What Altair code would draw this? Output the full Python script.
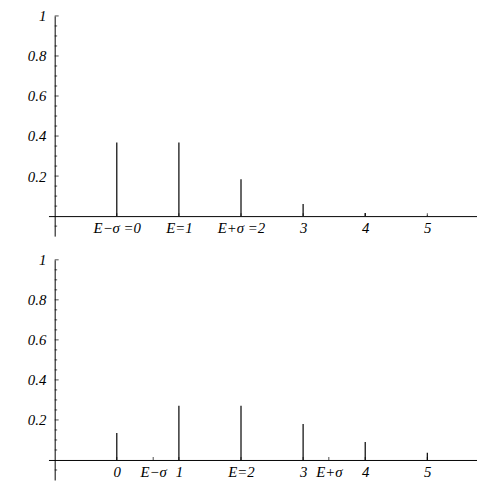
import altair as alt
import pandas as pd

# ---- data ----
k = [0, 1, 2, 3, 4, 5]
p_top = [0.368, 0.368, 0.184, 0.061, 0.015, 0.003]
p_bottom = [0.135, 0.271, 0.271, 0.180, 0.090, 0.036]

x_values_top = [0, 1, 2, 3, 4, 5]
x_texts_top = ["E\u2212\u03c3 =0", "E=1", "E+\u03c3 =2", "3", "4", "5"]
x_values_bottom = [0, 0.586, 1, 2, 3, 3.414, 4, 5]
x_texts_bottom = ["0", "E\u2212\u03c3", "1", "E=2", "3", "E+\u03c3", "4", "5"]

y_major = [0.2, 0.4, 0.6, 0.8, 1.0]
y_minor = [-0.05, 0.05, 0.1, 0.15, 0.25, 0.3, 0.35, 0.45, 0.5, 0.55,
           0.65, 0.7, 0.75, 0.85, 0.9, 0.95]

X_DOMAIN = [-1.1, 5.8]
Y_DOMAIN = [-0.1, 1.0]
W = 434
H = 223
FONT = "Liberation Serif"
FS = 15
AXIS_X_POS = -1.0


def panel(p, xvals, xtexts):
    stems = pd.DataFrame({"k": k, "p": p})
    xt = pd.DataFrame({"x": xvals})
    ymaj = pd.DataFrame({"y": y_major})
    ymin = pd.DataFrame({"y": y_minor})

    label_expr = ("[" + ",".join("'" + t + "'" for t in xtexts) + "][indexof(["
                  + ",".join(repr(v) for v in xvals) + "], datum.value)]")

    xscale = alt.Scale(domain=X_DOMAIN, nice=False, zero=False)
    yscale = alt.Scale(domain=Y_DOMAIN, nice=False, zero=False)

    x_off = -H * (0 - Y_DOMAIN[0]) / (Y_DOMAIN[1] - Y_DOMAIN[0])
    y_off = -W * (AXIS_X_POS - X_DOMAIN[0]) / (X_DOMAIN[1] - X_DOMAIN[0])

    xaxis = alt.Axis(values=xvals, labelExpr=label_expr, ticks=False, grid=False,
                     title=None, offset=x_off, domainColor="black", domainWidth=1,
                     labelFont=FONT, labelFontStyle="italic", labelFontSize=FS,
                     labelColor="black", labelPadding=5, labelOverlap=False,
                     labelFlush=False, labelBound=False)
    yaxis = alt.Axis(values=y_major, labelExpr="datum.value == 1 ? '1' : format(datum.value, '.1f')",
                     ticks=False, grid=False, title=None, offset=y_off,
                     domainColor="black", domainWidth=1,
                     labelFont=FONT, labelFontStyle="italic", labelFontSize=FS,
                     labelColor="black", labelPadding=9, labelOverlap=False,
                     labelFlush=False, labelBound=False)

    stem_layer = alt.Chart(stems).mark_rule(color="black", strokeWidth=1.2).encode(
        x=alt.X("k:Q", scale=xscale, axis=xaxis),
        y=alt.Y("p:Q", scale=yscale, axis=yaxis),
        y2=alt.Y2(datum=0),
    )
    xtick_layer = alt.Chart(xt).mark_tick(orient="vertical", size=3, thickness=1,
                                          yOffset=-1.5, color="black").encode(
        x=alt.X("x:Q", scale=xscale, axis=xaxis),
        y=alt.Y(datum=0, type="quantitative", scale=yscale, axis=yaxis),
    )
    ymaj_layer = alt.Chart(ymaj).mark_tick(orient="horizontal", size=4, thickness=1,
                                           xOffset=2, color="black").encode(
        x=alt.X(datum=AXIS_X_POS, type="quantitative", scale=xscale, axis=xaxis),
        y=alt.Y("y:Q", scale=yscale, axis=yaxis),
    )
    ymin_layer = alt.Chart(ymin).mark_tick(orient="horizontal", size=2.5, thickness=1,
                                           xOffset=1.25, color="black").encode(
        x=alt.X(datum=AXIS_X_POS, type="quantitative", scale=xscale, axis=xaxis),
        y=alt.Y("y:Q", scale=yscale, axis=yaxis),
    )
    return alt.layer(stem_layer, xtick_layer, ymaj_layer, ymin_layer).properties(
        width=W, height=H)


top = panel(p_top, x_values_top, x_texts_top)
bottom = panel(p_bottom, x_values_bottom, x_texts_bottom)

chart = alt.vconcat(top, bottom, spacing=17).properties(
    padding={"left": 19, "top": -2, "right": 0, "bottom": 0}
).configure(background="white").configure_view(stroke=None)

chart.save("out.html", embed_options={"renderer": "svg", "actions": False})
